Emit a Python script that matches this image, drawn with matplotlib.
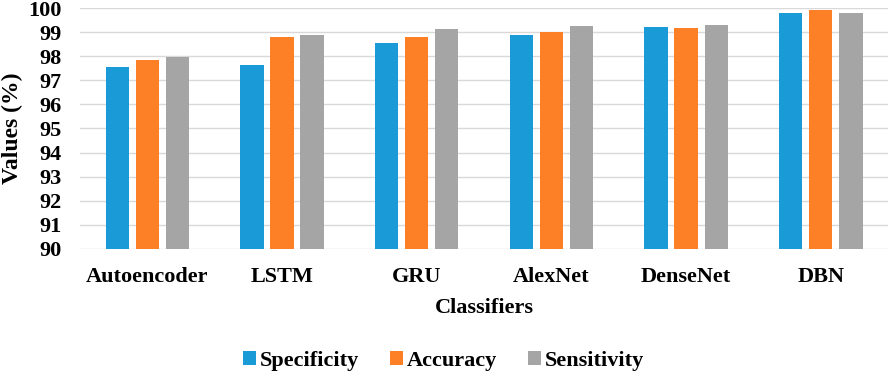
import matplotlib.pyplot as plt
import numpy as np

classifiers = ['Autoencoder', 'LSTM', 'GRU', 'AlexNet', 'DenseNet', 'DBN']
specificity = [97.55, 97.64, 98.57, 98.90, 99.22, 99.82]
accuracy = [97.84, 98.81, 98.81, 99.03, 99.17, 99.92]
sensitivity = [97.97, 98.90, 99.13, 99.26, 99.32, 99.78]

plt.rcParams['font.family'] = ['Liberation Serif', 'DejaVu Serif']
plt.rcParams['font.weight'] = 'bold'

fig = plt.figure(figsize=(8.92, 3.73), dpi=100)
ax = fig.add_axes([0.0897, 0.333, 0.906, 0.645])

x = np.arange(len(classifiers))
w = 0.173
step = 0.223
ax.bar(x - step, specificity, w, color='#1a9ad7', label='Specificity', zorder=3)
ax.bar(x, accuracy, w, color='#fd7f26', label='Accuracy', zorder=3)
ax.bar(x + step, sensitivity, w, color='#a5a5a5', label='Sensitivity', zorder=3)

ax.set_ylim(90, 100)
ax.set_xlim(-0.5, len(classifiers) - 0.5)
ax.set_yticks(np.arange(90, 101, 1))
ax.set_xticks(x)
ax.set_xticklabels(classifiers)
ax.tick_params(axis='both', length=0, labelsize=16)
ax.tick_params(axis='x', pad=13)
ax.tick_params(axis='y', pad=13)
ax.grid(axis='y', color='#d9d9d9', linewidth=1, zorder=0)
for s in ax.spines.values():
    s.set_visible(False)

ax.set_xlabel('Classifiers', fontsize=16, fontweight='bold', labelpad=8)
ax.set_ylabel('Values (%)', fontsize=17, fontweight='bold')
ax.yaxis.set_label_coords(-0.071, 0.5)

fig.legend(loc='lower center', bbox_to_anchor=(0.497, -0.048), ncol=3, frameon=False,
           fontsize=16, handlelength=0.6, handleheight=0.6, handletextpad=0.15,
           columnspacing=1.4)

fig.savefig('out.png', dpi=100)
